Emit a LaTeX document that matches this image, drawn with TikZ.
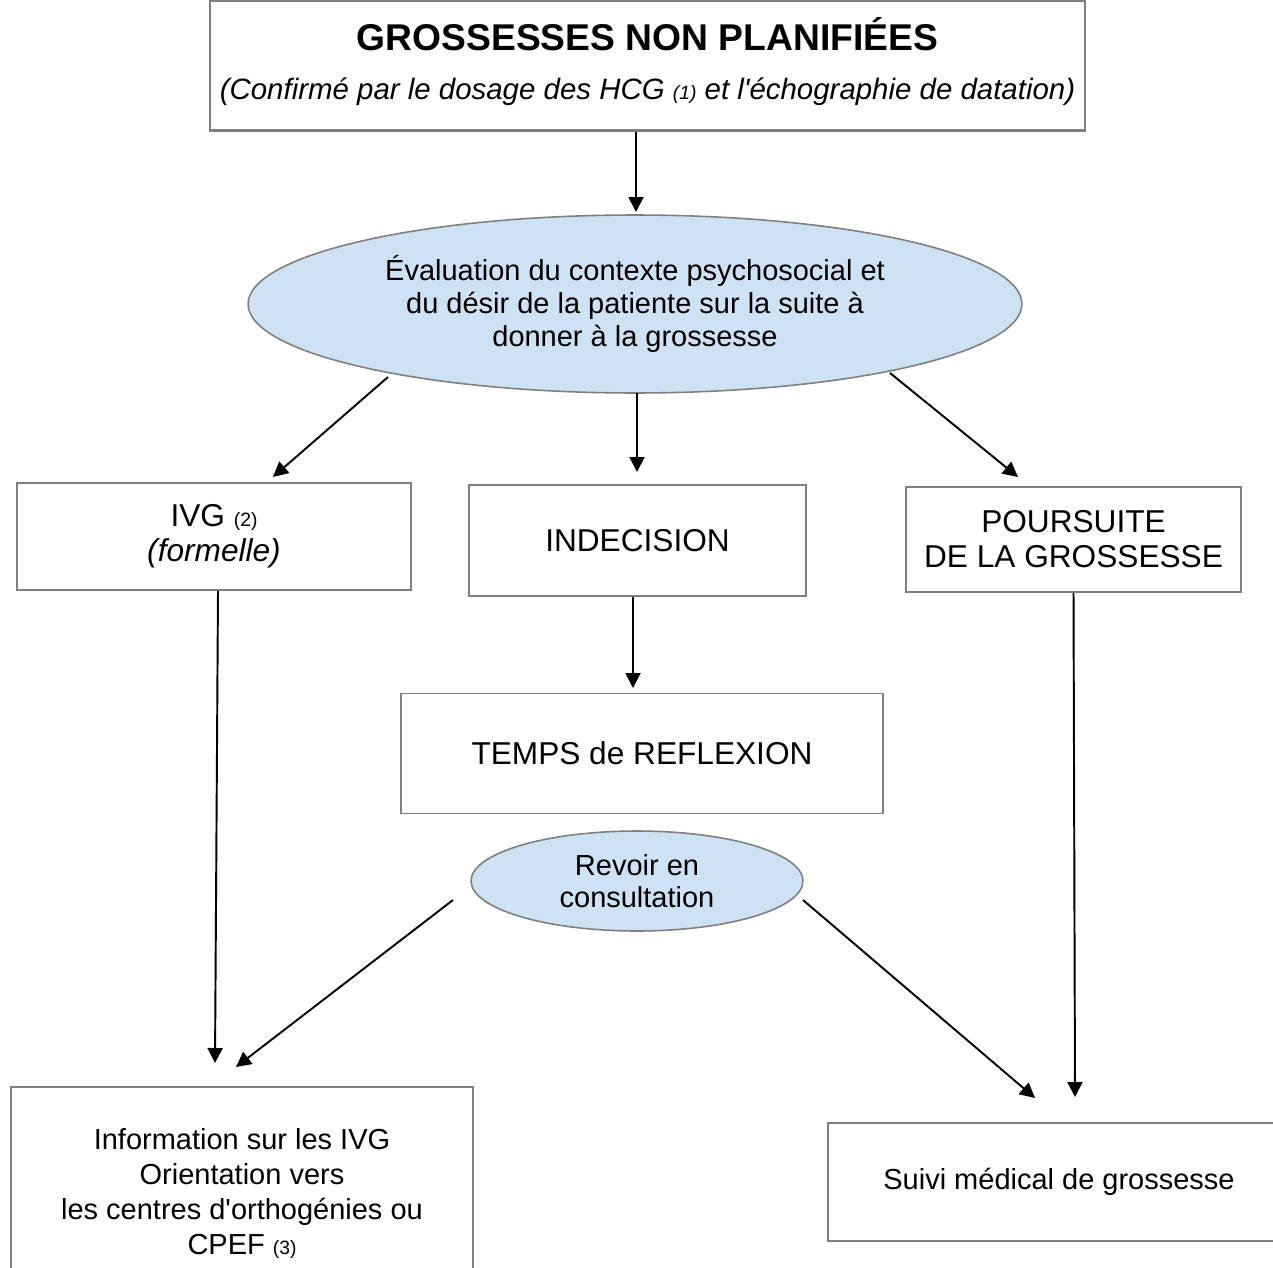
\documentclass[tikz,border=0pt]{standalone}
\usepackage{fontspec}
\setmainfont{Liberation Sans}
\usetikzlibrary{shapes.geometric}
\usetikzlibrary{arrows.meta}
\definecolor{grisbord}{HTML}{7F7F7F}
\definecolor{bleuclair}{HTML}{CFE2F3}
\tikzset{
	boite/.style={draw=grisbord, line width=1.1pt, align=center, inner sep=0pt, font=\fontsize{18}{20}\selectfont},
	bulle/.style={ellipse, draw=grisbord, fill=bleuclair, line width=0.9pt, align=center, inner sep=0pt, font=\fontsize{16.5}{19}\selectfont},
	fleche/.style={-{Triangle[length=0.3cm,width=0.3cm]}, line width=1.1pt},
}
\newcommand{\renvoi}[1]{{\fontsize{11}{13}\selectfont #1}}

\begin{document}
\begin{tikzpicture}[x=0.02cm, y=-0.02cm]
	%\draw [help lines] (0,0) grid (1273,1267);
	\clip (0,0) rectangle (1273,1267);
	
	%BOITES
	\node[boite, line width=1.6pt, minimum width=17.5cm, minimum height=2.6cm, font=\fontsize{16.75}{20}\selectfont] (titre) at (647.5,65.5)
		{{\fontsize{21.2}{24}\selectfont\bfseries GROSSESSES NON PLANIFIÉES}\\[8pt]
		 \textit{(Confirmé par le dosage des HCG \renvoi{(1)} et l\textquotesingle échographie de datation)}\\[-12pt]};
	\node[bulle, minimum width=15.48cm, minimum height=3.56cm] (eval) at (635,304)
		{Évaluation du contexte psychosocial et\\du désir de la patiente sur la suite à\\donner à la grossesse};
	\node[boite, minimum width=7.88cm, minimum height=2.14cm] (ivg) at (214,536.5) {IVG \renvoi{(2)}\\\textit{(formelle)}};
	\node[boite, minimum width=6.74cm, minimum height=2.22cm] (indec) at (637.5,540.5) {INDECISION};
	\node[boite, minimum width=6.7cm, minimum height=2.1cm] (pours) at (1073.5,539.5) {POURSUITE\\DE LA GROSSESSE};
	\node[boite, minimum width=9.64cm, minimum height=2.4cm] (temps) at (642,753.5) {TEMPS de REFLEXION};
	\node[bulle, minimum width=6.64cm, minimum height=2cm, font=\fontsize{16.5}{18.5}\selectfont] (revoir) at (637,881) {Revoir en\\consultation};
	\node[boite, minimum width=9.24cm, minimum height=4.26cm, font=\fontsize{16.5}{20}\selectfont] (info) at (242,1193.5)
		{Information sur les IVG\\Orientation vers\\les centres d\textquotesingle orthogénies ou\\CPEF \renvoi{(3)}};
	\node[boite, minimum width=9.24cm, minimum height=2.36cm, font=\fontsize{16.5}{20}\selectfont] (suivi) at (1059,1182) {Suivi médical de grossesse};
	
	%POINTES
	\coordinate (evalhaut) at (636,212);
	\coordinate (evalg) at (388,377);
	\coordinate (evalm) at (637,393);
	\coordinate (evald) at (890,373);
	\coordinate (ivghaut) at (273,477);
	\coordinate (indechaut) at (637,472);
	\coordinate (pourshaut) at (1018,477);
	\coordinate (tempshaut) at (633,688);
	\coordinate (revoirg) at (453,900);
	\coordinate (revoird) at (803,900);
	\coordinate (infohaut1) at (215,1063);
	\coordinate (infohaut2) at (236,1067);
	\coordinate (suivihaut1) at (1035,1098);
	\coordinate (suivihaut2) at (1075,1097);
	
	%FLECHES
	\draw[fleche] ([xshift=-0.23cm]titre.south) -- (evalhaut);
	\draw[fleche] (evalg) -- (ivghaut);
	\draw[fleche] (evalm) -- (indechaut);
	\draw[fleche] (evald) -- (pourshaut);
	\draw[fleche] ([xshift=-0.09cm]indec.south) -- (tempshaut);
	\draw[fleche] ([xshift=0.08cm]ivg.south) -- (infohaut1);
	\draw[fleche] (revoirg) -- (infohaut2);
	\draw[fleche] (revoird) -- (suivihaut1);
	\draw[fleche] (pours.south) -- (suivihaut2);
	
\end{tikzpicture}
\end{document}
